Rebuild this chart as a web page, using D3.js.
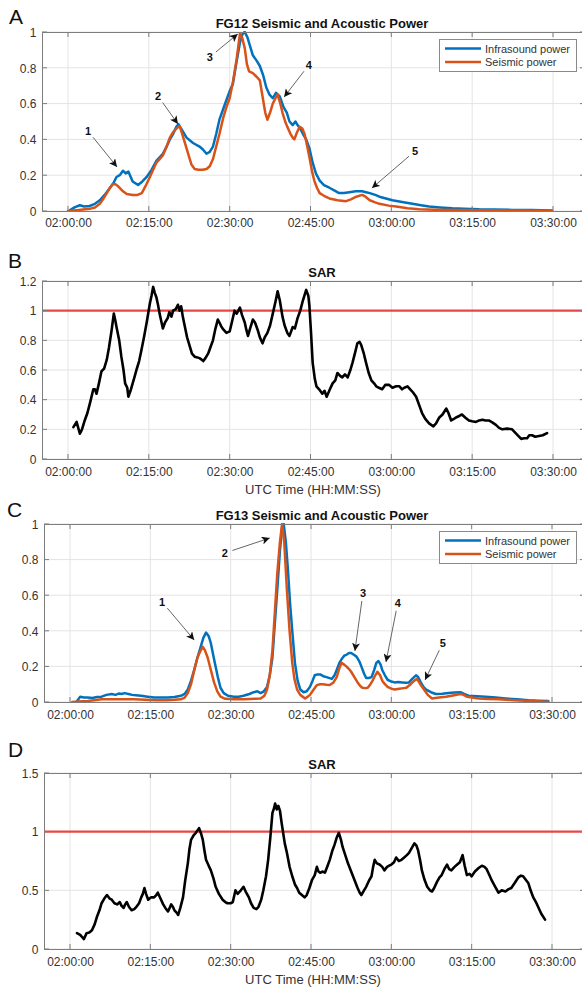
<!DOCTYPE html>
<html>
<head>
<meta charset="utf-8">
<script src="https://cdn.jsdelivr.net/npm/d3@7"></script>
<style>
  body { margin: 0; background: #fff; }
  svg { display: block; font-family: "Liberation Sans", Arial, Helvetica, sans-serif; }
</style>
</head>
<body>
<svg id="fig" width="582" height="987"></svg>
<script>
// ---------- data (times are minutes after 02:00:00 UTC) ----------
const timeTicks = ["02:00:00", "02:15:00", "02:30:00", "02:45:00", "03:00:00", "03:15:00", "03:30:00"];
const seriesNames = ["Infrasound power", "Seismic power"];

// FG12 normalised infrasound power
const fg12InfraMin = [0.4,1.2,2.2,3.0,4.0,5.0,5.9,6.8,7.8,8.5,9.0,9.6,10.2,10.7,11.2,12.0,13.0,13.8,14.6,15.5,16.4,17.0,17.6,18.3,18.9,19.5,20.1,20.5,21.0,22.0,23.2,24.4,25.0,25.7,26.3,26.9,27.5,28.1,28.8,29.4,30.0,30.6,31.2,31.9,32.4,32.8,33.3,33.7,34.3,35.0,35.6,36.2,36.8,37.4,38.0,38.6,39.3,40.0,40.6,41.1,41.7,42.2,42.6,43.1,43.6,44.2,44.8,45.4,46.0,46.7,47.5,48.5,49.4,50.3,51.2,52.2,53.4,54.6,55.3,56.0,57.0,57.8,59.0,60.2,62.0,63.9,65.5,67.0,69.0,71.3,73.5,76.3,79.0,82.4,86.0,89.8];
const fg12InfraPow = [0.005,0.02,0.032,0.025,0.028,0.04,0.06,0.09,0.13,0.16,0.19,0.2,0.225,0.21,0.22,0.165,0.145,0.165,0.19,0.23,0.28,0.3,0.32,0.36,0.4,0.43,0.47,0.485,0.46,0.41,0.38,0.36,0.345,0.32,0.33,0.36,0.43,0.51,0.57,0.62,0.67,0.71,0.82,0.94,0.99,1.0,0.97,0.93,0.87,0.84,0.81,0.76,0.69,0.65,0.63,0.66,0.64,0.58,0.55,0.5,0.48,0.5,0.48,0.46,0.43,0.4,0.35,0.27,0.21,0.17,0.145,0.13,0.115,0.1,0.1,0.105,0.11,0.11,0.105,0.1,0.09,0.08,0.07,0.06,0.05,0.04,0.032,0.025,0.02,0.015,0.013,0.01,0.009,0.006,0.005,0.003];

// FG12 normalised seismic power
const fg12SeisMin = [0.0,2.0,4.0,5.0,5.9,6.6,7.2,7.8,8.3,8.8,9.4,10.2,10.9,12.0,12.9,13.7,14.4,15.2,15.8,16.4,17.0,17.6,18.3,18.9,19.5,20.1,20.7,21.2,21.6,22.0,22.5,22.9,23.5,24.2,25.0,25.7,26.3,26.9,27.5,28.1,28.8,29.4,30.0,30.6,31.3,31.9,32.3,32.8,33.2,33.6,34.3,35.0,35.6,36.1,36.6,37.0,37.5,38.0,38.5,38.9,39.4,39.8,40.3,40.7,41.3,41.7,42.0,42.5,43.0,43.5,43.9,44.4,44.8,45.3,45.7,46.2,46.7,47.5,48.5,50.0,51.6,52.5,53.5,54.6,55.2,56.0,57.0,57.8,59.5,60.9,63.0,65.2,68.0,72.0,78.0,84.0,89.8];
const fg12SeisPow = [0.0,0.005,0.012,0.02,0.04,0.07,0.1,0.13,0.15,0.15,0.135,0.11,0.095,0.09,0.09,0.1,0.14,0.19,0.23,0.27,0.29,0.31,0.36,0.41,0.44,0.46,0.475,0.43,0.39,0.35,0.3,0.26,0.235,0.23,0.23,0.235,0.25,0.29,0.36,0.43,0.52,0.58,0.63,0.72,0.85,0.99,0.97,0.91,0.82,0.78,0.77,0.75,0.73,0.64,0.55,0.51,0.55,0.6,0.63,0.65,0.6,0.55,0.5,0.47,0.43,0.41,0.4,0.44,0.47,0.46,0.43,0.36,0.3,0.22,0.17,0.13,0.1,0.085,0.07,0.06,0.055,0.065,0.08,0.09,0.08,0.06,0.048,0.04,0.03,0.025,0.015,0.01,0.007,0.005,0.004,0.003,0.002];

// FG12 seismo-acoustic ratio
const fg12SarMin = [1.0,1.6,2.2,2.6,3.1,3.6,4.1,4.7,5.0,5.3,5.8,6.2,6.7,7.2,7.6,8.1,8.5,8.8,9.0,9.5,9.9,10.3,10.6,11.0,11.2,11.6,12.0,12.4,12.7,13.2,13.6,14.1,14.6,15.2,15.5,15.8,16.1,16.4,16.7,17.0,17.3,17.6,18.0,18.5,18.8,19.2,19.5,20.0,20.4,20.7,21.0,21.3,21.7,22.1,22.6,23.0,23.5,24.0,24.4,24.8,25.1,25.5,26.0,26.5,26.9,27.3,27.8,28.1,28.5,28.9,29.4,30.0,30.4,30.9,31.3,31.9,32.3,32.8,33.1,33.4,33.8,34.3,34.7,35.2,35.6,36.1,36.5,37.0,37.5,38.0,38.5,38.9,39.3,39.8,40.2,40.7,41.1,41.7,42.1,42.6,43.1,43.6,44.2,44.6,44.8,45.1,45.4,45.8,46.1,46.6,47.2,47.6,48.0,48.6,49.1,49.6,50.0,50.5,50.9,51.4,51.9,52.4,52.8,53.3,53.7,54.1,54.4,54.9,55.3,55.8,56.3,56.8,57.2,57.7,58.3,58.9,59.6,60.2,60.9,61.5,62.0,62.4,63.0,63.5,64.0,64.6,65.1,65.7,66.3,67.0,67.8,68.3,68.9,69.5,70.2,70.6,71.1,71.6,72.0,72.6,73.1,73.7,74.4,75.0,75.7,76.3,76.9,77.5,78.1,78.8,79.4,80.0,80.6,81.5,82.4,83.2,84.1,84.6,85.2,85.6,86.1,86.7,87.4,88.1,88.9];
const fg12Sar = [0.215,0.25,0.17,0.2,0.26,0.31,0.38,0.47,0.47,0.44,0.52,0.59,0.61,0.67,0.75,0.87,0.98,0.93,0.89,0.8,0.69,0.6,0.51,0.48,0.42,0.46,0.51,0.56,0.6,0.66,0.73,0.82,0.92,1.05,1.1,1.16,1.12,1.09,1.04,0.98,0.93,0.88,0.92,0.95,0.99,0.96,1.0,1.01,1.04,1.0,1.03,0.96,0.89,0.82,0.76,0.71,0.69,0.685,0.68,0.67,0.66,0.68,0.71,0.76,0.8,0.87,0.94,0.92,0.89,0.87,0.85,0.86,0.92,1.0,0.98,1.02,0.97,0.92,0.87,0.83,0.88,0.94,0.92,0.87,0.82,0.78,0.82,0.85,0.9,0.98,1.06,1.13,1.07,0.96,0.9,0.85,0.83,0.89,0.88,0.95,1.0,1.07,1.14,1.1,1.03,0.85,0.65,0.54,0.49,0.47,0.44,0.46,0.42,0.47,0.51,0.53,0.58,0.56,0.55,0.57,0.55,0.6,0.65,0.72,0.78,0.79,0.77,0.71,0.65,0.58,0.53,0.51,0.49,0.48,0.47,0.5,0.5,0.48,0.49,0.49,0.47,0.48,0.49,0.47,0.45,0.42,0.37,0.31,0.27,0.24,0.22,0.24,0.28,0.3,0.34,0.31,0.26,0.27,0.28,0.29,0.3,0.28,0.26,0.255,0.25,0.26,0.265,0.26,0.26,0.245,0.23,0.21,0.2,0.205,0.2,0.17,0.135,0.14,0.14,0.16,0.16,0.15,0.155,0.16,0.175];

// FG13 normalised infrasound power
const fg13InfraMin = [1.3,1.9,2.6,3.3,4.2,5.0,5.9,6.8,7.8,8.5,9.2,9.6,10.2,10.9,11.6,12.3,13.3,14.5,15.7,17.0,18.3,19.5,20.7,21.4,22.0,22.6,23.2,23.8,24.4,24.9,25.4,25.9,26.3,26.9,27.6,28.1,28.7,29.5,30.6,31.5,32.4,33.5,34.3,35.0,35.6,36.2,36.8,37.3,37.8,38.2,38.7,39.2,39.6,39.9,40.3,40.7,41.1,41.5,42.0,42.5,43.0,43.6,44.2,44.8,45.3,45.7,46.2,46.7,47.3,47.9,48.9,49.4,49.8,50.3,50.7,51.2,51.6,52.1,52.5,53.0,53.5,54.0,54.4,54.9,55.3,55.8,56.3,56.8,57.2,57.6,58.0,58.3,58.8,59.3,60.0,60.6,61.3,62.0,62.7,63.3,63.9,64.6,65.0,65.5,66.0,66.5,67.4,68.3,69.5,70.7,71.8,72.9,73.6,74.4,76.0,77.6,79.5,81.3,83.5,85.6,87.5,89.3];
const fg13InfraPow = [0.005,0.03,0.025,0.025,0.022,0.028,0.03,0.04,0.045,0.04,0.048,0.045,0.05,0.045,0.04,0.038,0.035,0.03,0.025,0.025,0.025,0.028,0.035,0.045,0.07,0.12,0.18,0.25,0.31,0.36,0.39,0.37,0.33,0.24,0.14,0.08,0.05,0.035,0.03,0.03,0.035,0.045,0.055,0.06,0.05,0.06,0.085,0.15,0.25,0.42,0.63,0.85,0.98,1.0,0.9,0.74,0.55,0.4,0.22,0.12,0.07,0.055,0.06,0.085,0.12,0.15,0.155,0.155,0.145,0.14,0.13,0.15,0.18,0.22,0.24,0.26,0.265,0.275,0.275,0.265,0.255,0.23,0.2,0.16,0.135,0.135,0.14,0.18,0.22,0.23,0.21,0.18,0.15,0.125,0.115,0.11,0.112,0.11,0.108,0.11,0.13,0.15,0.14,0.11,0.085,0.07,0.055,0.045,0.047,0.05,0.053,0.055,0.045,0.035,0.032,0.03,0.025,0.02,0.015,0.01,0.007,0.005];

// FG13 normalised seismic power
const fg13SeisMin = [0.4,1.5,3.3,4.5,5.9,8.0,10.0,12.0,14.0,16.0,18.0,19.5,20.7,21.4,22.0,22.6,23.2,23.8,24.4,24.8,25.2,25.7,26.3,26.9,27.5,28.1,29.0,30.6,32.5,34.5,35.6,36.3,36.8,37.3,37.8,38.2,38.7,39.2,39.6,40.0,40.5,41.0,41.5,41.9,42.4,43.0,43.9,44.4,44.8,45.5,46.1,46.7,47.2,47.9,48.5,49.2,49.8,50.3,50.7,51.2,51.6,52.1,52.5,53.1,53.7,54.2,54.6,55.1,55.6,56.1,56.5,57.0,57.4,57.9,58.3,58.8,59.3,60.0,60.6,61.5,62.3,62.8,63.6,64.3,64.8,65.4,66.1,66.8,67.6,68.9,70.2,71.5,72.9,73.5,74.1,76.3,78.0,80.0,83.0,86.0,89.3];
const fg13SeisPow = [0.0,0.003,0.005,0.01,0.015,0.015,0.016,0.015,0.012,0.01,0.01,0.012,0.015,0.025,0.05,0.1,0.18,0.25,0.29,0.31,0.29,0.25,0.18,0.11,0.06,0.03,0.018,0.015,0.015,0.018,0.02,0.035,0.07,0.15,0.29,0.48,0.72,0.9,1.0,0.9,0.63,0.4,0.22,0.13,0.07,0.04,0.02,0.03,0.04,0.07,0.095,0.1,0.1,0.097,0.095,0.11,0.14,0.19,0.22,0.21,0.2,0.185,0.17,0.14,0.11,0.09,0.08,0.078,0.08,0.1,0.12,0.15,0.17,0.15,0.12,0.1,0.085,0.075,0.07,0.075,0.078,0.08,0.1,0.12,0.13,0.1,0.07,0.04,0.02,0.025,0.03,0.037,0.045,0.04,0.03,0.02,0.017,0.015,0.01,0.006,0.002];

// FG13 seismo-acoustic ratio
const fg13SarMin = [1.3,1.9,2.6,3.1,3.6,4.1,4.6,5.0,5.5,5.9,6.4,6.9,7.4,7.8,8.3,8.8,9.3,9.6,10.0,10.3,10.6,11.0,11.5,12.0,12.4,12.9,13.3,13.6,13.9,14.2,14.6,15.1,15.7,16.1,16.4,16.9,17.4,17.8,18.3,18.6,18.9,19.2,19.5,19.9,20.2,20.6,21.1,21.5,22.0,22.3,22.6,23.1,23.5,24.1,24.5,24.8,25.1,25.4,25.9,26.3,26.8,27.2,27.8,28.5,29.0,29.4,30.0,30.4,30.9,31.3,31.9,32.4,32.8,33.4,33.8,34.3,34.8,35.2,35.7,36.1,36.6,37.0,37.4,37.8,38.1,38.3,38.6,38.9,39.2,39.5,39.8,40.1,40.5,41.0,41.5,42.0,42.4,42.8,43.3,43.8,44.2,44.7,45.2,45.7,46.1,46.4,46.7,47.2,47.6,48.1,48.5,49.0,49.4,49.8,50.2,50.6,50.9,51.4,51.9,52.5,53.1,53.7,54.1,54.4,54.9,55.3,55.8,56.3,56.6,56.9,57.3,57.8,58.3,58.7,59.2,59.6,60.0,60.5,60.9,61.4,61.9,62.4,62.9,63.3,63.8,64.3,64.7,65.0,65.4,65.7,66.2,66.7,67.2,67.6,68.0,68.5,69.0,69.4,69.9,70.4,70.8,71.2,71.8,72.3,72.8,73.3,73.7,74.1,74.6,75.0,75.6,76.3,76.9,77.4,77.8,78.3,78.8,79.4,80.0,80.6,81.3,81.9,82.4,83.0,83.7,84.2,84.6,85.1,85.6,86.0,86.5,87.0,87.4,88.0,88.7];
const fg13Sar = [0.135,0.12,0.085,0.135,0.14,0.16,0.21,0.27,0.33,0.39,0.43,0.46,0.43,0.42,0.39,0.38,0.4,0.37,0.35,0.38,0.4,0.36,0.33,0.34,0.36,0.39,0.44,0.47,0.52,0.47,0.42,0.44,0.44,0.46,0.48,0.43,0.38,0.35,0.32,0.35,0.38,0.36,0.33,0.31,0.29,0.35,0.44,0.58,0.73,0.85,0.93,0.97,0.99,1.03,0.98,0.93,0.84,0.76,0.71,0.67,0.6,0.53,0.47,0.42,0.4,0.39,0.39,0.4,0.5,0.47,0.5,0.53,0.49,0.44,0.39,0.35,0.34,0.36,0.42,0.5,0.62,0.76,0.95,1.16,1.2,1.24,1.19,1.22,1.18,1.08,0.99,0.9,0.82,0.7,0.62,0.55,0.52,0.48,0.46,0.44,0.46,0.52,0.59,0.63,0.7,0.66,0.65,0.66,0.65,0.71,0.76,0.84,0.89,0.95,0.99,0.93,0.87,0.8,0.73,0.66,0.59,0.52,0.48,0.46,0.5,0.53,0.58,0.62,0.7,0.76,0.73,0.72,0.7,0.67,0.7,0.71,0.72,0.74,0.78,0.75,0.76,0.78,0.8,0.82,0.86,0.9,0.88,0.84,0.75,0.67,0.59,0.53,0.5,0.49,0.52,0.57,0.61,0.63,0.68,0.72,0.68,0.67,0.7,0.72,0.74,0.8,0.71,0.63,0.64,0.62,0.66,0.69,0.71,0.7,0.68,0.63,0.58,0.53,0.48,0.5,0.49,0.51,0.52,0.56,0.61,0.625,0.62,0.59,0.56,0.5,0.44,0.4,0.36,0.3,0.25];

// numbered event arrows: label position and arrow tip, in (minutes, value)
const fg12Events = [
  { n: "1", label: [3.7, 0.447], tip: [9.1, 0.246] },
  { n: "2", label: [16.7, 0.642], tip: [20.4, 0.486] },
  { n: "3", label: [26.3, 0.86], tip: [31.5, 0.989] },
  { n: "4", label: [44.7, 0.816], tip: [40.1, 0.637] },
  { n: "5", label: [64.4, 0.335], tip: [56.4, 0.128] }
];
const fg13Events = [
  { n: "1", label: [17.2, 0.562], tip: [23.2, 0.348] },
  { n: "2", label: [28.9, 0.837], tip: [37.3, 0.921] },
  { n: "3", label: [54.7, 0.612], tip: [53.2, 0.287] },
  { n: "4", label: [61.2, 0.556], tip: [59.0, 0.225] },
  { n: "5", label: [69.6, 0.331], tip: [66.3, 0.124] }
];

const sarThreshold = 1;

// ---------- drawing ----------
const svg = d3.select("#fig");
const parseClock = d3.utcParse("%H:%M:%S");
const fmtClock = d3.utcFormat("%H:%M:%S");
const t0 = parseClock("02:00:00");
const toDate = m => new Date(t0.getTime() + m * 60000);
const tickDates = timeTicks.map(parseClock);

const blue = "#0072BD", orange = "#D95319";
const boxColor = "#7d7d7d", gridColor = "#e4e4e4", textColor = "#333";

const defs = svg.append("defs");
defs.append("marker")
  .attr("id", "head").attr("viewBox", "0 0 10 10")
  .attr("refX", 10).attr("refY", 5)
  .attr("markerWidth", 8).attr("markerHeight", 8)
  .attr("markerUnits", "userSpaceOnUse")
  .attr("orient", "auto")
  .append("path").attr("d", "M0,0 L10,5 L0,10 L2.5,5 Z").attr("fill", "#111");

function panel(cfg) {
  const g = svg.append("g");
  const x = d3.scaleUtc().domain([tickDates[0], tickDates[tickDates.length - 1]]).range([cfg.x0, cfg.x1]);
  const y = d3.scaleLinear().domain([0, cfg.yMax]).range([cfg.bottom, cfg.top]);
  const L = cfg.left, R = cfg.right, T = cfg.top, B = cfg.bottom;

  // grid
  g.append("g").selectAll("line").data(tickDates).join("line")
    .attr("x1", d => x(d)).attr("x2", d => x(d)).attr("y1", T).attr("y2", B)
    .attr("stroke", gridColor).attr("stroke-width", 1);
  g.append("g").selectAll("line").data(cfg.yTicks).join("line")
    .attr("x1", L).attr("x2", R).attr("y1", d => y(d)).attr("y2", d => y(d))
    .attr("stroke", gridColor).attr("stroke-width", 1);

  const clipId = "clip" + cfg.letter;
  defs.append("clipPath").attr("id", clipId)
    .append("rect").attr("x", L).attr("y", T - 1).attr("width", R - L).attr("height", B - T + 2);
  const plot = g.append("g").attr("clip-path", `url(#${clipId})`);

  if (cfg.threshold !== undefined) {
    plot.append("line")
      .attr("x1", L).attr("x2", R).attr("y1", y(cfg.threshold)).attr("y2", y(cfg.threshold))
      .attr("stroke", "#e8342f").attr("stroke-width", 2.2).attr("stroke-opacity", 0.9);
  }

  cfg.series.forEach(s => {
    const line = d3.line().x((d, i) => x(toDate(s.minutes[i]))).y(d => y(d));
    plot.append("path").datum(s.values)
      .attr("d", line)
      .attr("fill", "none").attr("stroke", s.color)
      .attr("stroke-width", s.width).attr("stroke-linejoin", "round").attr("stroke-linecap", "round");
  });

  // axes: bottom labels via d3.axisBottom, ticks drawn inward on all sides
  const xAxis = d3.axisBottom(x).tickValues(tickDates).tickFormat(fmtClock).tickSize(0).tickPadding(0);
  const xa = g.append("g").attr("transform", `translate(0,${B})`).call(xAxis);
  xa.select(".domain").remove();
  xa.selectAll("text").attr("dy", null).attr("y", cfg.xLabelDy)
    .attr("font-size", 12).attr("fill", textColor).attr("font-family", null);

  const yAxis = d3.axisLeft(y).tickValues(cfg.yTicks).tickFormat(d => String(d)).tickSize(0).tickPadding(0);
  const ya = g.append("g").attr("transform", `translate(${L},0)`).call(yAxis);
  ya.select(".domain").remove();
  ya.selectAll("text").attr("x", -5.5).attr("dy", "0.35em")
    .attr("font-size", 12).attr("fill", textColor).attr("font-family", null);

  const tl = 5;
  const tk = g.append("g").attr("stroke", boxColor).attr("stroke-width", 1);
  tickDates.forEach(d => {
    tk.append("line").attr("x1", x(d)).attr("x2", x(d)).attr("y1", B).attr("y2", B - tl);
    tk.append("line").attr("x1", x(d)).attr("x2", x(d)).attr("y1", T).attr("y2", T + tl);
  });
  cfg.yTicks.forEach(v => {
    tk.append("line").attr("x1", L).attr("x2", L + tl).attr("y1", y(v)).attr("y2", y(v));
    tk.append("line").attr("x1", R).attr("x2", R - tl).attr("y1", y(v)).attr("y2", y(v));
  });
  g.append("rect").attr("x", L + 0.5).attr("y", T + 0.5).attr("width", R - L).attr("height", B - T)
    .attr("fill", "none").attr("stroke", boxColor).attr("stroke-width", 1);

  // title
  g.append("text").attr("x", 322).attr("y", T - 4).attr("text-anchor", "middle")
    .attr("font-size", 13).attr("font-weight", "bold").attr("fill", "#111").text(cfg.title);

  // panel letter
  svg.append("text").attr("x", cfg.letterX).attr("y", cfg.letterY)
    .attr("font-size", 21).attr("fill", "#111").text(cfg.letter);

  if (cfg.xTitle) {
    g.append("text").attr("x", 313).attr("y", B + 35).attr("text-anchor", "middle")
      .attr("font-size", 13).attr("fill", textColor).text(cfg.xTitle);
  }

  if (cfg.legend) {
    const lx = 439, ly = T + 7, lw = 137, lh = 32;
    const lg = g.append("g");
    lg.append("rect").attr("x", lx + 0.5).attr("y", ly + 0.5).attr("width", lw).attr("height", lh)
      .attr("fill", "#fff").attr("stroke", "#8a8a8a").attr("stroke-width", 1);
    cfg.series.forEach((s, i) => {
      const yy = ly + 9.5 + i * 13.5;
      lg.append("line").attr("x1", lx + 6).attr("x2", lx + 42).attr("y1", yy).attr("y2", yy)
        .attr("stroke", s.color).attr("stroke-width", 2.5);
      lg.append("text").attr("x", lx + 46).attr("y", yy + 4).attr("font-size", 11)
        .attr("fill", textColor).text(seriesNames[i]);
    });
  }

  if (cfg.events) {
    const ag = g.append("g");
    cfg.events.forEach(e => {
      const lxp = x(toDate(e.label[0])), lyp = y(e.label[1]);
      const hx = x(toDate(e.tip[0])), hy = y(e.tip[1]);
      const dx = hx - lxp, dy = hy - lyp, len = Math.hypot(dx, dy);
      const sx = lxp + dx / len * 8, sy = lyp + dy / len * 8;
      ag.append("line").attr("x1", sx).attr("y1", sy).attr("x2", hx).attr("y2", hy)
        .attr("stroke", "#666").attr("stroke-width", 1).attr("marker-end", "url(#head)");
      ag.append("text").attr("x", lxp).attr("y", lyp + 4).attr("text-anchor", "middle")
        .attr("font-size", 11).attr("font-weight", "bold").attr("fill", "#111").text(e.n);
    });
  }
}

panel({
  letter: "A", letterX: 9, letterY: 24,
  left: 42, right: 585, top: 32, bottom: 211, x0: 68, x1: 553, xLabelDy: 16,
  yMax: 1, yTicks: [0, 0.2, 0.4, 0.6, 0.8, 1],
  title: "FG12 Seismic and Acoustic Power", legend: true, events: fg12Events,
  series: [
    { minutes: fg12InfraMin, values: fg12InfraPow, color: blue, width: 2.5 },
    { minutes: fg12SeisMin, values: fg12SeisPow, color: orange, width: 2.5 }
  ]
});
panel({
  letter: "B", letterX: 8, letterY: 268,
  left: 42, right: 585, top: 281, bottom: 459, x0: 68, x1: 553, xLabelDy: 17,
  yMax: 1.2, yTicks: [0, 0.2, 0.4, 0.6, 0.8, 1, 1.2],
  title: "SAR", xTitle: "UTC Time (HH:MM:SS)", threshold: sarThreshold,
  series: [{ minutes: fg12SarMin, values: fg12Sar, color: "#000", width: 2.6 }]
});
panel({
  letter: "C", letterX: 7, letterY: 517,
  left: 44, right: 585, top: 524, bottom: 702, x0: 70, x1: 552, xLabelDy: 17,
  yMax: 1, yTicks: [0, 0.2, 0.4, 0.6, 0.8, 1],
  title: "FG13 Seismic and Acoustic Power", legend: true, events: fg13Events,
  series: [
    { minutes: fg13InfraMin, values: fg13InfraPow, color: blue, width: 2.5 },
    { minutes: fg13SeisMin, values: fg13SeisPow, color: orange, width: 2.5 }
  ]
});
panel({
  letter: "D", letterX: 8, letterY: 757,
  left: 44, right: 585, top: 773, bottom: 949, x0: 70, x1: 552, xLabelDy: 17,
  yMax: 1.5, yTicks: [0, 0.5, 1, 1.5],
  title: "SAR", xTitle: "UTC Time (HH:MM:SS)", threshold: sarThreshold,
  series: [{ minutes: fg13SarMin, values: fg13Sar, color: "#000", width: 2.6 }]
});
</script>
</body>
</html>
